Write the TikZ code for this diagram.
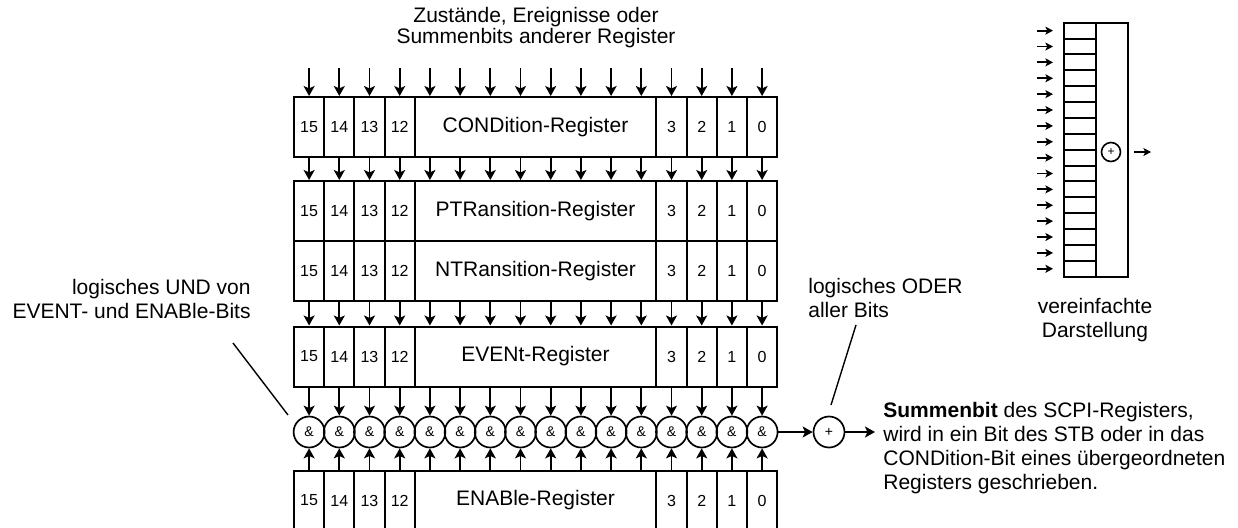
\documentclass[tikz,border=0pt]{standalone}
\usepackage{fontspec}
\setmainfont{Liberation Sans}
\usetikzlibrary{arrows.meta}

\begin{document}
\begin{tikzpicture}[
  x=0.5pt, y=-0.5pt,
  every node/.style={font=\fontsize{10.5}{12}\selectfont},
  reg/.style={draw, line width=1pt, minimum width=241.5pt, minimum height=30pt, inner sep=0pt},
  bit/.style={draw, line width=1pt, minimum width=15.1pt, minimum height=30pt, inner sep=0pt, font=\fontsize{8}{9.6}\selectfont},
  gate/.style={draw, circle, line width=0.85pt, minimum size=15.5pt, inner sep=0pt, font=\fontsize{7}{8}\selectfont},
  note/.style={inner sep=0pt},
  cellbox/.style={draw, line width=1pt, minimum width=16pt, minimum height=7.94pt, inner sep=0pt},
  arr/.style={line width=0.85pt, -{Stealth[length=5pt, width=5.5pt, inset=1.2pt]}},
  smallarr/.style={line width=0.9pt, -{Stealth[length=3.8pt, width=4pt, inset=0.9pt]}},
  lead/.style={line width=0.7pt}
]
\useasboundingbox (0,0) rectangle (1238,527);

% registers
\node[reg] (cond)   at (535.5,127)   {CONDition-Register};
\node[reg] (ptr)    at (535.5,211)   {PTRansition-Register};
\node[reg] (ntr)    at (535.5,271)   {NTRansition-Register};
\node[reg] (event)  at (535.5,356.5) {EVENt-Register};
\node[reg] (enable) at (535.5,500.5) {ENABle-Register};
\foreach \r/\y in {cond/127, ptr/211, ntr/271, event/356.5, enable/500.5}
  \foreach \b in {15,14,13,12,3,2,1,0}
    \node[bit] (\r\b) at ({309.1+(15-\b)*30.2},\y) {\b};

% bit paths
\foreach \b in {0,...,15} {
  \coordinate (in\b) at ({309.1+(15-\b)*30.2},68);
  \node[gate] (and\b) at ({309.1+(15-\b)*30.2},432) {\&};
  \draw[arr] (in\b) -- (cond.north -| in\b);
  \draw[arr] (cond.south -| in\b) -- (ptr.north -| in\b);
  \draw[arr] (ntr.south -| in\b) -- (event.north -| in\b);
  \draw[arr] (event.south -| in\b) -- (and\b);
  \draw[arr] (enable.north -| in\b) -- (and\b);
}

% sum bit
\node[gate] (orgate) at (829,432) {+};
\draw[arr] (and0) -- (orgate);
\node[note, inner xsep=4pt, anchor=west, align=left] (sumtext) at (875,448.5)
  {\textbf{Summenbit} des SCPI-Registers,\\wird in ein Bit des STB oder in das\\CONDition-Bit eines übergeordneten\\Registers geschrieben.};
\draw[arr] (orgate) -- (orgate -| sumtext.west);

% labels
\node[note, align=center, font=\fontsize{10.5}{10.75}\selectfont] (source) at (536,27.5)
  {Zustände, Ereignisse oder\\Summenbits anderer Register};
\node[note, align=right, anchor=east] (undtext) at (251,299)
  {logisches UND von\\EVENT- und ENABle-Bits};
\coordinate (undhead) at (233,343);
\coordinate (undfoot) at (288,415);
\draw[lead] (undhead) -- (undfoot);
\node[note, align=left, anchor=west] (odertext) at (808,298)
  {logisches ODER\\aller Bits};
\coordinate (oderhead) at (856,325);
\coordinate (oderfoot) at (831,405);
\draw[lead] (oderhead) -- (oderfoot);

% simplified view
\node[draw, line width=1pt, minimum width=15.85pt, minimum height=127pt, inner sep=0pt] (sumcol) at (1111.9,149.7) {};
\foreach \i in {0,...,15} {
  \node[cellbox] (cell\i) at (1080,{30.64+\i*15.875}) {};
  \coordinate (src\i) at (1037,{30.64+\i*15.875});
  \draw[smallarr, shorten >=5pt] (src\i) -- (cell\i);
}
\node[gate, minimum size=9.5pt, line width=0.8pt, font=\fontsize{6}{7}\selectfont] (simpleplus) at (1111,152) {+};
\coordinate (simpleout) at (1151,152);
\draw[smallarr, shorten <=2.7pt] (sumcol.east |- simpleplus) -- (simpleout);
\node[note, align=center] (simplelabel) at (1095,320) {vereinfachte\\Darstellung};
\end{tikzpicture}
\end{document}
